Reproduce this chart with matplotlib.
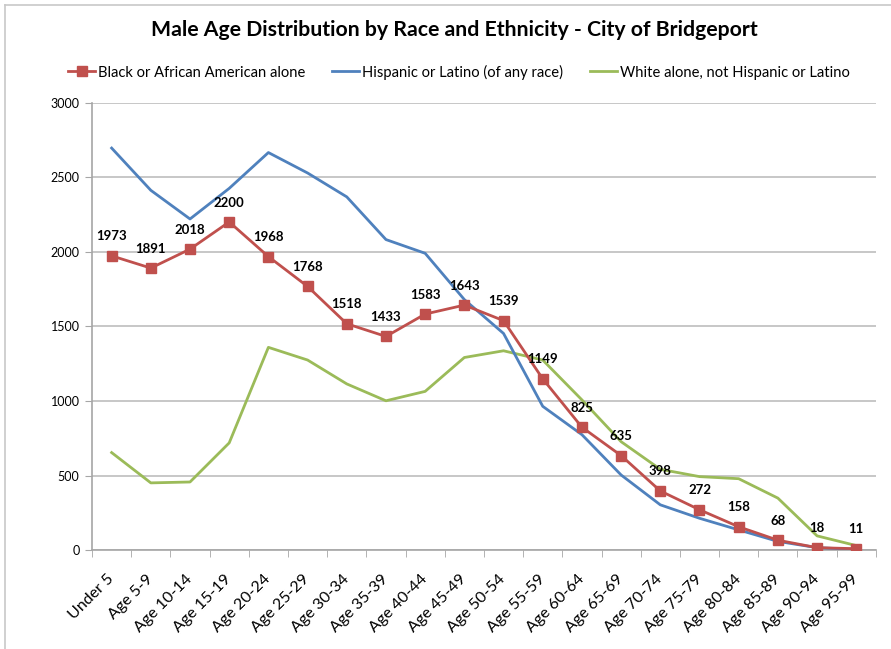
import matplotlib.pyplot as plt
from matplotlib.lines import Line2D
from matplotlib.ticker import MultipleLocator, FixedLocator
import numpy as np

age_groups = ["Under 5", "Age 5-9", "Age 10-14", "Age 15-19", "Age 20-24",
              "Age 25-29", "Age 30-34", "Age 35-39", "Age 40-44", "Age 45-49",
              "Age 50-54", "Age 55-59", "Age 60-64", "Age 65-69", "Age 70-74",
              "Age 75-79", "Age 80-84", "Age 85-89", "Age 90-94", "Age 95-99"]

black = [1973, 1891, 2018, 2200, 1968, 1768, 1518, 1433, 1583, 1643,
         1539, 1149, 825, 635, 398, 272, 158, 68, 18, 11]
hispanic = [2695, 2412, 2220, 2425, 2665, 2528, 2368, 2082, 1990, 1680,
            1453, 965, 775, 505, 305, 215, 137, 60, 18, 6]
white = [655, 452, 458, 720, 1360, 1275, 1115, 1002, 1065, 1292,
         1337, 1275, 1008, 728, 543, 494, 480, 350, 97, 32]

plt.rcParams["font.family"] = ["Lato", "DejaVu Sans"]

fig = plt.figure(figsize=(8.91, 6.49), dpi=100)
ax = fig.add_axes([0.1033, 0.152, 0.8797, 0.690])

x = np.arange(len(age_groups))

# frame around the chart area
fig.add_artist(Line2D([5 / 891, 1], [1 - 5 / 649, 1 - 5 / 649], color="#C8C8C8", lw=1.2))
fig.add_artist(Line2D([5 / 891, 5 / 891], [0, 1 - 5 / 649], color="#C8C8C8", lw=1.2))

ax.plot(x, black, color="#C0504D", lw=2, marker="s", markersize=7,
        label="Black or African American alone", zorder=4)
ax.plot(x, hispanic, color="#4F81BD", lw=2,
        label="Hispanic or Latino (of any race)", zorder=3)
ax.plot(x, white, color="#9BBB59", lw=2,
        label="White alone, not Hispanic or Latino", zorder=2)

for xi, v in zip(x, black):
    ax.annotate(str(v), (xi, v), xytext=(0, 14), textcoords="offset points",
                ha="center", va="center", fontsize=9.5, fontweight="bold",
                color="black", zorder=5)

ax.set_xlim(-0.5, len(age_groups) - 0.5)
ax.set_ylim(0, 3000)
ax.yaxis.set_major_locator(MultipleLocator(500))
ax.set_xticks(x)
ax.set_xticklabels(age_groups, rotation=45, ha="right", va="center",
                   rotation_mode="anchor", fontsize=11.5)
ax.xaxis.set_minor_locator(FixedLocator(np.arange(-0.5, len(age_groups), 1)))
ax.tick_params(axis="x", which="major", length=0, pad=19)
ax.tick_params(axis="x", which="minor", length=5, color="#A6A6A6", direction="out")
ax.tick_params(axis="y", length=5, color="#A6A6A6", labelsize=9, pad=4)

ax.grid(True, axis="y", color="#BEBEBE", lw=1.2)
ax.set_axisbelow(True)
for side in ["top", "right"]:
    ax.spines[side].set_visible(False)
for side in ["left", "bottom"]:
    ax.spines[side].set_color("#A6A6A6")
    ax.spines[side].set_linewidth(1.2)

fig.text(0.51, 1 - 30 / 649, "Male Age Distribution by Race and Ethnicity - City of Bridgeport",
         ha="center", va="center", fontsize=15.3, fontweight="bold")

fig.legend(loc="center", bbox_to_anchor=(0.515, 1 - 72 / 649), ncol=3,
           frameon=False, fontsize=10.6, handlelength=1.85, handletextpad=0.2,
           columnspacing=1.8)

fig.savefig("out.png", dpi=100)
